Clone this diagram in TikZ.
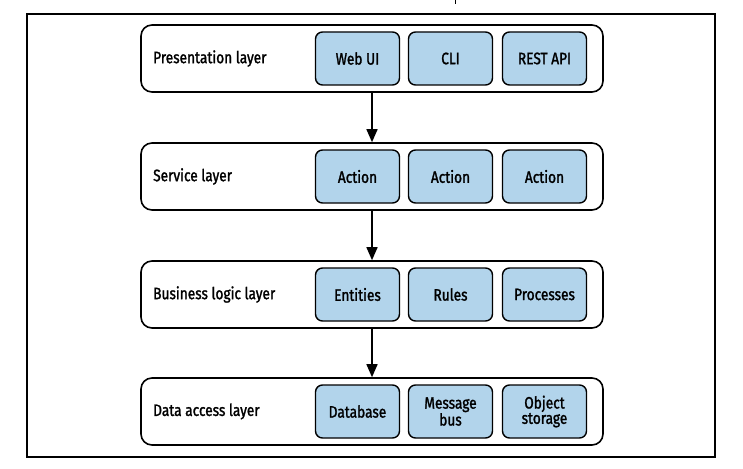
\documentclass[tikz,border=0pt]{standalone}
\usepackage{fontspec}
\setmainfont{Fira Sans}[FakeStretch=0.83, FakeBold=1.5]
\usetikzlibrary{arrows.meta}
\definecolor{boxblue}{RGB}{178,212,235}
\begin{document}
\begin{tikzpicture}[x=1pt,y=-1pt,
 layerbox/.style={draw, line width=1.6pt, rounded corners=11pt, minimum width=462pt, minimum height=67pt, inner sep=0pt},
 compbox/.style={draw, fill=boxblue, line width=1.4pt, rounded corners=7pt, minimum width=84pt, minimum height=53pt, inner sep=0pt, align=center, font=\fontsize{16.5}{13.5}\selectfont},
 layertext/.style={anchor=west, font=\fontsize{16.5}{13.5}\selectfont, inner sep=0pt},
 flow/.style={-{Triangle[width=11pt,length=13pt]}, line width=1.5pt}]
\useasboundingbox (0,0) rectangle (743,468);
\fill[white] (0,0) rectangle (743,468);
\node[draw, line width=1.2pt, minimum width=688pt, minimum height=443pt, inner sep=0pt] (frame) at (371,235.5) {};
\coordinate (tickA) at (455,0);
\coordinate (tickB) at (455,4);
\draw[line width=1pt] (tickA) -- (tickB);

% layers
\node[layerbox] (L1) at (372,58.5) {};
\node[layerbox] (L2) at (372,176.5) {};
\node[layerbox] (L3) at (372,294.5) {};
\node[layerbox] (L4) at (372,411.5) {};

\node[layertext] (t1) at (153,58.5) {Presentation layer};
\node[layertext] (t2) at (153,176.5) {Service layer};
\node[layertext] (t3) at (153,294.5) {Business logic layer};
\node[layertext] (t4) at (153,411.5) {Data access layer};

\node[compbox] (a1) at (357.5,58.5) {Web UI};
\node[compbox] (b1) at (450.5,58.5) {CLI};
\node[compbox] (c1) at (544.5,58.5) {REST API};

\node[compbox] (a2) at (357.5,176.5) {Action};
\node[compbox] (b2) at (450.5,176.5) {Action};
\node[compbox] (c2) at (544.5,176.5) {Action};

\node[compbox] (a3) at (357.5,294.5) {Entities};
\node[compbox] (b3) at (450.5,294.5) {Rules};
\node[compbox] (c3) at (544.5,294.5) {Processes};

\node[compbox] (a4) at (357.5,411.5) {Database};
\node[compbox] (b4) at (450.5,411.5) {Message\\bus};
\node[compbox] (c4) at (544.5,411.5) {Object\\storage};

\draw[flow] (L1.south) -- (L2.north);
\draw[flow] (L2.south) -- (L3.north);
\draw[flow] (L3.south) -- (L4.north);
\end{tikzpicture}
\end{document}
